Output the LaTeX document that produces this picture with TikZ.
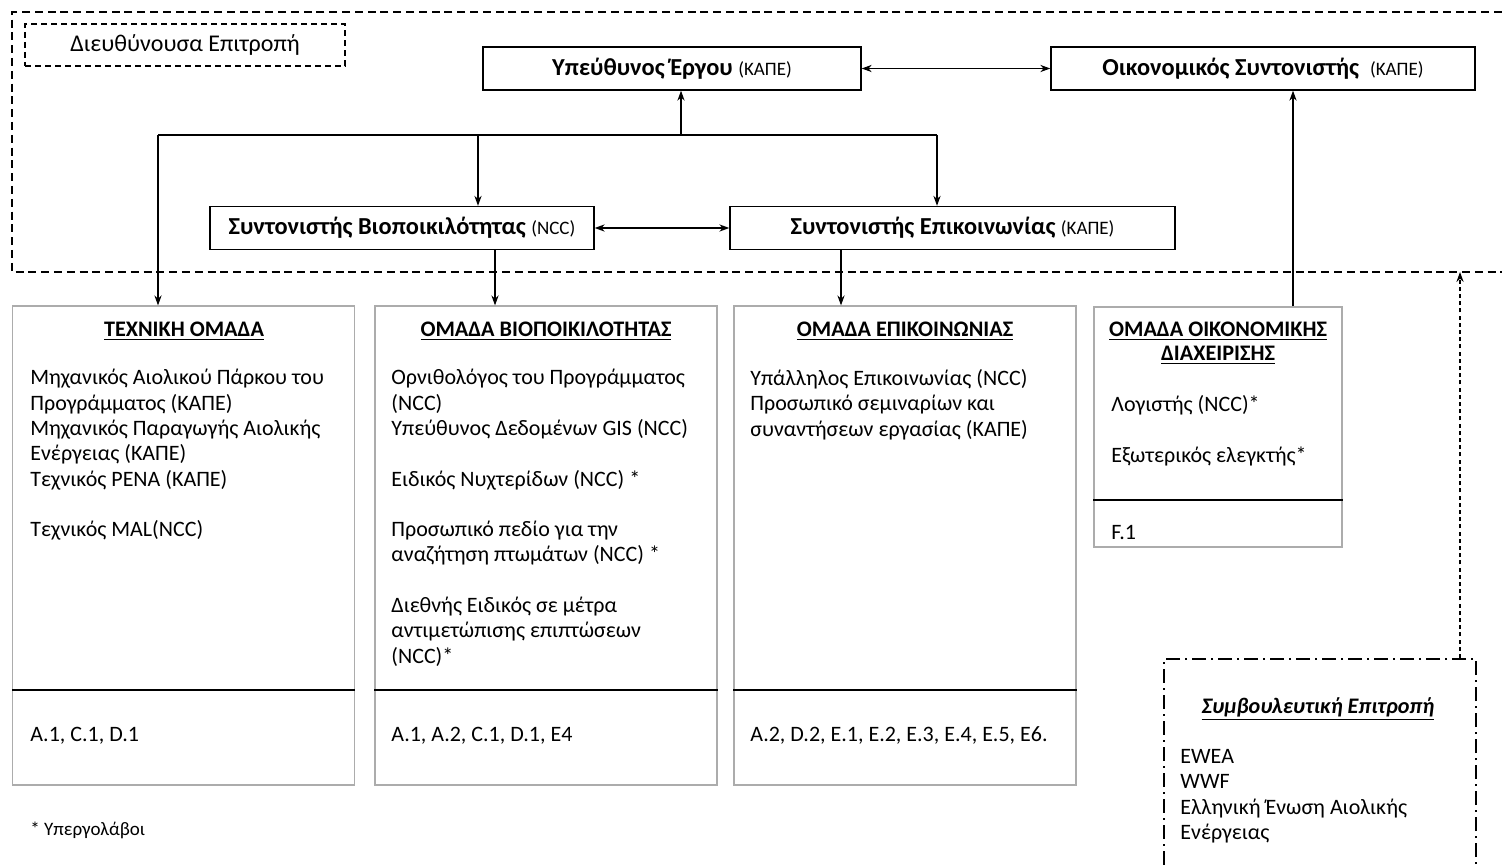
\documentclass[tikz,border=0pt]{standalone}
\usepackage{fontspec}
\setmainfont{Carlito}
\usetikzlibrary{arrows.meta}

\begin{document}
\begin{tikzpicture}[x=0.5pt,y=-0.5pt,
  every node/.style={font=\fontsize{11}{12.65}\selectfont},
  headbox/.style={draw=black,line width=0.7pt,minimum height=21.5pt,inner sep=0pt,font=\fontsize{12.2}{14}\selectfont\bfseries},
  group/.style={draw=gray!65,line width=0.6pt,inner sep=0pt,minimum width=171pt,minimum height=239.5pt},
  txt/.style={inner sep=0pt,align=left,anchor=north west,execute at begin node=\strut},
  ttl/.style={inner sep=0pt,align=center,font=\fontsize{11.1}{12.2}\selectfont\bfseries},
  link/.style={-{Stealth[length=5pt,width=3.6pt]},line width=0.6pt},
  both/.style={{Stealth[length=5pt,width=3.6pt]}-{Stealth[length=5pt,width=3.6pt]},line width=0.6pt},
  sm/.style={font=\fontsize{9.5}{11}\selectfont}]
\useasboundingbox (0,0) rectangle (1502,866);
\draw[line width=1pt,dash pattern=on 4pt off 2.4pt] (1502,12) -| (12,272) -- (1502,272);
\node[draw,line width=0.8pt,dash pattern=on 3pt off 2pt,minimum width=160pt,minimum height=21pt,inner sep=0pt,font=\fontsize{12}{14}\selectfont] (board) at (185,45) {Διευθύνουσα Επιτροπή};

\node[headbox,minimum width=189pt] (pm) at (672,68.5) {Υπεύθυνος Έργου {\mdseries\fontsize{9.5}{11}\selectfont(ΚΑΠΕ)}};
\node[headbox,minimum width=212pt] (fc) at (1263,68.5) {Οικονομικός Συντονιστής\ \ {\mdseries\fontsize{9.5}{11}\selectfont(ΚΑΠΕ)}};
\node[headbox,minimum width=192pt] (bc) at (402,228) {Συντονιστής Βιοποικιλότητας {\mdseries\fontsize{9.5}{11}\selectfont(NCC)}};
\node[headbox,minimum width=222.5pt] (cc) at (952.5,228) {Συντονιστής Επικοινωνίας {\mdseries\fontsize{9.5}{11}\selectfont(ΚΑΠΕ)}};

\node[group] (tech) at (183.5,545.5) {};
\node[group] (bio) at (546,545.5) {};
\node[group] (comm) at (905,545.5) {};
\node[group,minimum width=124pt,minimum height=120pt] (fin) at (1218,427) {};
\node[draw,line width=1pt,dash pattern=on 7pt off 2.5pt on 1pt off 2.5pt,minimum width=156pt,minimum height=125pt,inner sep=0pt,anchor=north west] (adv) at (1163,658) {};

\coordinate (cut) at (0,690);
\coordinate (fcut) at (0,500);
\draw[line width=0.7pt] (tech.west |- cut) -- (tech.east |- cut);
\draw[line width=0.7pt] (bio.west |- cut) -- (bio.east |- cut);
\draw[line width=0.7pt] (comm.west |- cut) -- (comm.east |- cut);
\draw[line width=0.7pt] (fin.west |- fcut) -- (fin.east |- fcut);

\coordinate (hub) at (681,135);
\coordinate (tl) at (158,135);
\coordinate (tb) at (478,135);
\coordinate (tr) at (937,135);
\coordinate (bx) at (495,0);
\coordinate (cx) at (841,0);
\coordinate (fx) at (1293,0);
\coordinate (gate) at (1460,272);
\draw[line width=0.6pt] (tl) -- (tr);
\draw[link] (hub) -- (hub |- pm.south);
\draw[link] (tl) -- (tl |- tech.north);
\draw[link] (tb) -- (tb |- bc.north);
\draw[link] (tr) -- (tr |- cc.north);
\draw[both] (pm.east) -- (fc.west);
\draw[both] (bc.east) -- (cc.west);
\draw[link] (bc.south -| bx) -- (bio.north -| bx);
\draw[link] (cc.south -| cx) -- (comm.north -| cx);
\draw[link] (fin.north -| fx) -- (fc.south -| fx);
\draw[link,dash pattern=on 2pt off 1.6pt] (adv.north -| gate) -- (gate);

\node[ttl] (techT) at (184,331) {\underline{ΤΕΧΝΙΚΗ ΟΜΑΔΑ}};
\node[ttl] (bioT) at (546,331) {\underline{ΟΜΑΔΑ ΒΙΟΠΟΙΚΙΛΟΤΗΤΑΣ}};
\node[ttl] (commT) at (905,331) {\underline{ΟΜΑΔΑ ΕΠΙΚΟΙΝΩΝΙΑΣ}};
\node[ttl] (finT) at (1218,343) {\underline{ΟΜΑΔΑ ΟΙΚΟΝΟΜΙΚΗΣ}\\\underline{ΔΙΑΧΕΙΡΙΣΗΣ}};
\node[ttl,font=\fontsize{11.1}{12.7}\selectfont\bfseries\itshape] (advT) at (1318,709) {\underline{Συμβουλευτική Επιτροπή}};

\node[txt] (techL) at (30,369) {Μηχανικός Αιολικού Πάρκου του\\Προγράμματος (ΚΑΠΕ)\\Μηχανικός Παραγωγής Αιολικής\\Ενέργειας (ΚΑΠΕ)\\Τεχνικός PENA (ΚΑΠΕ)\\[12.65pt]Τεχνικός MAL(NCC)};
\node[txt] (bioL) at (391,369) {Ορνιθολόγος του Προγράμματος\\(NCC)\\Υπεύθυνος Δεδομένων GIS (NCC)\\[12.65pt]Ειδικός Νυχτερίδων (NCC) *\\[12.65pt]Προσωπικό πεδίο για την\\αναζήτηση πτωμάτων (NCC) *\\[12.65pt]Διεθνής Ειδικός σε μέτρα\\αντιμετώπισης επιπτώσεων\\(NCC)*};
\node[txt] (commL) at (750,369) {Υπάλληλος Επικοινωνίας (NCC)\\Προσωπικό σεμιναρίων και\\συναντήσεων εργασίας (ΚΑΠΕ)};
\node[txt] (finL) at (1111,395) {Λογιστής (NCC)*\\[12.65pt]Εξωτερικός ελεγκτής*};
\node[txt] (advL) at (1180,749) {EWEA\\WWF\\Ελληνική Ένωση Αιολικής\\Ενέργειας};

\node[txt] (techC) at (30,723) {A.1, C.1, D.1};
\node[txt] (bioC) at (391,723) {A.1, A.2, C.1, D.1, E4};
\node[txt] (commC) at (750,723) {A.2, D.2, E.1, E.2, E.3, E.4, E.5, E6.};
\node[txt] (finC) at (1111,521) {F.1};
\node[txt,sm] (note) at (30,820) {* Υπεργολάβοι};
\end{tikzpicture}
\end{document}
